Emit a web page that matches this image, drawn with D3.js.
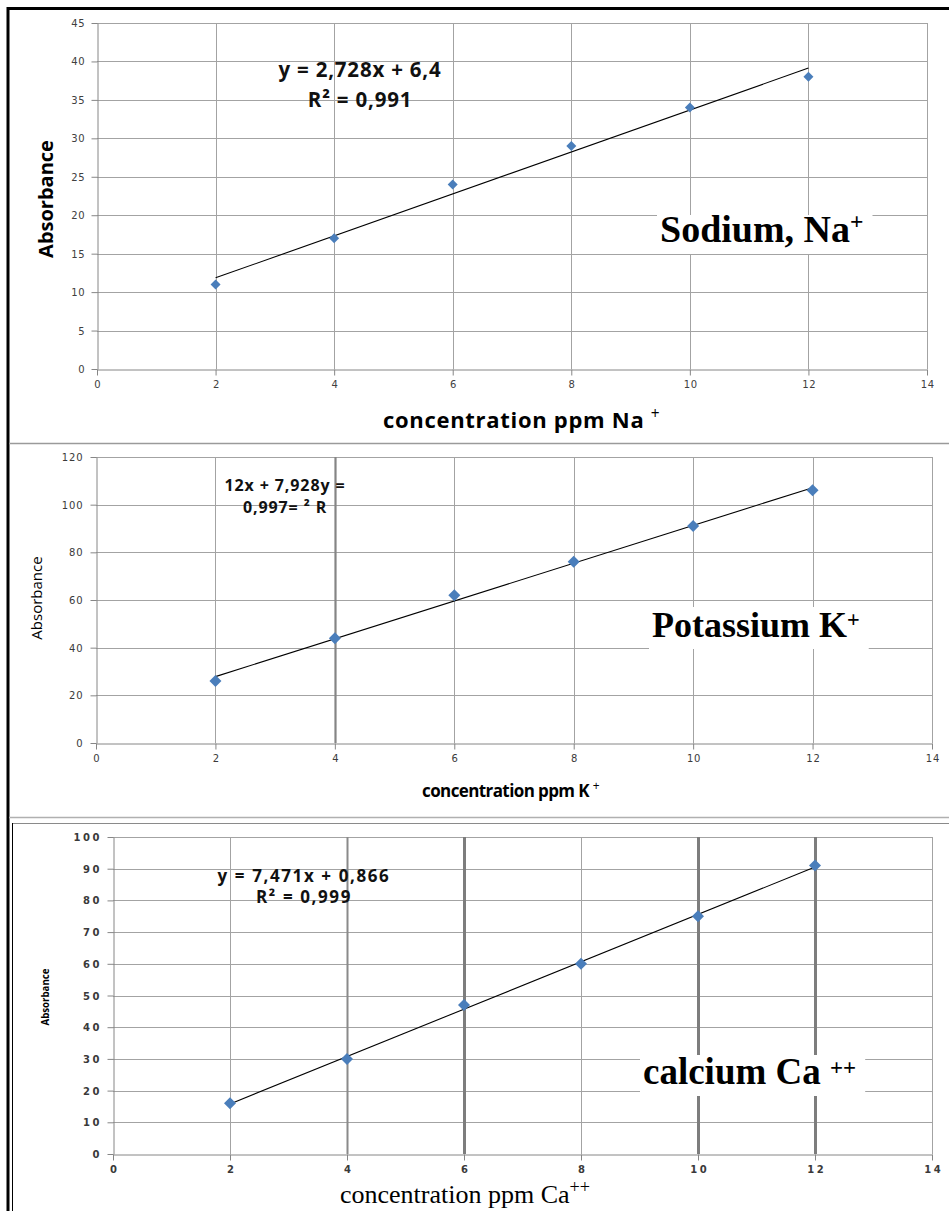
<!DOCTYPE html>
<html>
<head>
<meta charset="utf-8">
<script src="https://cdn.jsdelivr.net/npm/d3@7"></script>
<style>
  body { margin: 0; background: #fff; }
  svg { display: block; }
</style>
</head>
<body>
<svg id="chart" width="949" height="1211"></svg>
<script>
// Calibration data: concentration (ppm) against measured absorbance
const concentration = [2, 4, 6, 8, 10, 12];
const sodiumAbsorbance = [11, 17, 24, 29, 34, 38];
const potassiumAbsorbance = [26, 44, 62, 76, 91, 106];
const calciumAbsorbance = [16, 30, 47, 60, 75, 91];

// Axis ticks
const xTickValues = [0, 2, 4, 6, 8, 10, 12, 14];
const sodiumYTicks = [0, 5, 10, 15, 20, 25, 30, 35, 40, 45];
const potassiumYTicks = [0, 20, 40, 60, 80, 100, 120];
const calciumYTicks = [0, 10, 20, 30, 40, 50, 60, 70, 80, 90, 100];

// Linear trendlines [slope, intercept]
const sodiumFit = [2.728, 6.4];
const potassiumFit = [7.928, 12];
const calciumFit = [7.471, 0.866];

// Text
const sodiumEquation = ["y = 2,728x + 6,4", "R\u00B2 = 0,991"];
const potassiumEquation = ["12x + 7,928y =", "0,997= \u00B2 R"];
const calciumEquation = ["y = 7,471x + 0,866", "R\u00B2 = 0,999"];
const sodiumName = ["Sodium, Na", "+"];
const potassiumName = ["Potassium K", "+"];
const calciumName = ["calcium Ca ", "++"];
const sodiumXTitle = ["concentration ppm Na ", "+"];
const potassiumXTitle = ["concentration ppm K ", "+"];
const calciumXTitle = ["concentration ppm Ca", "++"];
const yTitle = "Absorbance";

const svg = d3.select("#chart");
svg.append("rect").attr("width", 949).attr("height", 1211).attr("fill", "#fff");

const sans = "'Open Sans', 'DejaVu Sans', sans-serif";
const serif = "'Liberation Serif', 'Times New Roman', serif";
const tickFont = "'DejaVu Sans', Verdana, sans-serif";

const panels = [
  {
    xs: concentration, ys: sodiumAbsorbance, yTicks: sodiumYTicks, fit: sodiumFit,
    equation: sodiumEquation, name: sodiumName, xTitle: sodiumXTitle,
    box: { left: 97, right: 927, top: 23, bottom: 369 },
    tick: { size: 10, weight: "normal", spacing: 0.6, fill: "#404040", yGap: 13, xBase: 24 },
    grid: { color: "#a3a3a3", width: 1, strong: {} },
    marker: 5,
    yTitleStyle: { x: 53, y: 199, size: 20, weight: "bold", family: sans },
    xTitleStyle: { x: 383, y: 428, size: 22, weight: "bold", family: sans, spacing: 0.7, anchor: "start" },
    eqStyle: { x: 360, y1: 77, y2: 107, size: 20.5, spacing: 0.8 },
    nameStyle: { x: 660, y: 242, size: 38, pad: [3, 27, 13] }
  },
  {
    xs: concentration, ys: potassiumAbsorbance, yTicks: potassiumYTicks, fit: potassiumFit,
    equation: potassiumEquation, name: potassiumName, xTitle: potassiumXTitle,
    box: { left: 96, right: 932, top: 457, bottom: 743 },
    tick: { size: 10, weight: "normal", spacing: 0.8, fill: "#3a3a3a", yGap: 14, xBase: 24 },
    grid: { color: "#a3a3a3", width: 1, strong: { 4: ["#858585", 2.2] } },
    marker: 6,
    yTitleStyle: { x: 42, y: 598, size: 15, weight: "normal", family: sans },
    xTitleStyle: { x: 422, y: 797, size: 17, weight: "bold", family: sans, spacing: -0.6, anchor: "start" },
    eqStyle: { x: 285, y1: 491, y2: 513, size: 16, spacing: 0.9 },
    nameStyle: { x: 652, y: 637, size: 36, pad: [3, 30, 10] }
  },
  {
    xs: concentration, ys: calciumAbsorbance, yTicks: calciumYTicks, fit: calciumFit,
    equation: calciumEquation, name: calciumName, xTitle: calciumXTitle,
    box: { left: 113, right: 932, top: 837, bottom: 1154 },
    tick: { size: 10, weight: "bold", spacing: 2.6, fill: "#3a3a3a", yGap: 14, xBase: 24 },
    grid: { color: "#a3a3a3", width: 1, strong: { 4: ["#8a8a8a", 2], 6: ["#7d7d7d", 3], 10: ["#7d7d7d", 3], 12: ["#7d7d7d", 3] } },
    marker: 6,
    yTitleStyle: { x: 49, y: 997, size: 11, weight: "bold", family: sans, length: 57 },
    xTitleStyle: { x: 340, y: 1203, size: 26, weight: "normal", family: serif, spacing: 0, anchor: "start" },
    eqStyle: { x: 304, y1: 882, y2: 903, size: 17, spacing: 1.6 },
    nameStyle: { x: 643, y: 1084, size: 37, pad: [3, 29, 9] }
  }
];

// Panel frames
svg.append("line").attr("x1", 8).attr("x2", 949).attr("y1", 8.5).attr("y2", 8.5)
  .attr("stroke", "#000").attr("stroke-width", 3);
svg.append("line").attr("x1", 8).attr("x2", 8).attr("y1", 7).attr("y2", 1211)
  .attr("stroke", "#000").attr("stroke-width", 3);
svg.append("line").attr("x1", 9).attr("x2", 949).attr("y1", 443.5).attr("y2", 443.5)
  .attr("stroke", "#9a9a9a").attr("stroke-width", 1.5);
svg.append("line").attr("x1", 9).attr("x2", 949).attr("y1", 817.5).attr("y2", 817.5)
  .attr("stroke", "#b0b0b0").attr("stroke-width", 1.5);
svg.append("line").attr("x1", 12).attr("x2", 949).attr("y1", 823.5).attr("y2", 823.5)
  .attr("stroke", "#8a8a8a").attr("stroke-width", 1);
svg.append("line").attr("x1", 12.5).attr("x2", 12.5).attr("y1", 823).attr("y2", 1211)
  .attr("stroke", "#000").attr("stroke-width", 1);

function drawPanel(p) {
  const b = p.box;
  const x = d3.scaleLinear().domain([0, 14]).range([b.left, b.right]);
  const yMax = p.yTicks[p.yTicks.length - 1];
  const y = d3.scaleLinear().domain([0, yMax]).range([b.bottom, b.top]);
  const g = svg.append("g");

  // horizontal gridlines
  g.append("g").selectAll("line").data(p.yTicks.filter(d => d > 0)).join("line")
    .attr("x1", b.left).attr("x2", b.right)
    .attr("y1", d => Math.round(y(d)) + 0.5).attr("y2", d => Math.round(y(d)) + 0.5)
    .attr("stroke", p.grid.color).attr("stroke-width", p.grid.width);

  // vertical gridlines
  g.append("g").selectAll("line").data(xTickValues.filter(d => d > 0)).join("line")
    .attr("x1", d => Math.round(x(d)) + 0.5).attr("x2", d => Math.round(x(d)) + 0.5)
    .attr("y1", b.top).attr("y2", b.bottom)
    .attr("stroke", d => p.grid.strong[d] ? p.grid.strong[d][0] : p.grid.color)
    .attr("stroke-width", d => p.grid.strong[d] ? p.grid.strong[d][1] : p.grid.width);

  // axes
  const yAxis = d3.axisLeft(y).tickValues(p.yTicks).tickSize(6).tickSizeOuter(0).tickFormat(d3.format("d"));
  const xAxis = d3.axisBottom(x).tickValues(xTickValues).tickSize(6).tickSizeOuter(0).tickFormat(d3.format("d"));

  const ya = g.append("g").attr("transform", `translate(${Math.round(b.left) + 0.5},0)`).call(yAxis);
  const xa = g.append("g").attr("transform", `translate(0,${Math.round(b.bottom) + 0.5})`).call(xAxis);
  [ya, xa].forEach(a => {
    a.select(".domain").attr("stroke", "#868686");
    a.selectAll(".tick line").attr("stroke", "#868686");
    a.selectAll(".tick text")
      .attr("fill", p.tick.fill)
      .style("font-family", tickFont)
      .style("font-size", p.tick.size + "px")
      .style("font-weight", p.tick.weight)
      .style("letter-spacing", p.tick.spacing + "px");
  });
  ya.selectAll(".tick text").attr("x", -(p.tick.yGap - p.tick.spacing)).attr("dy", "0.35em");
  xa.selectAll(".tick text").attr("y", p.tick.xBase - 6).attr("dy", 0)
    .attr("dx", p.tick.spacing / 2);

  // trendline
  const ends = [d3.min(p.xs), d3.max(p.xs)];
  const line = d3.line().x(d => x(d)).y(d => y(p.fit[0] * d + p.fit[1]));
  g.append("path").datum(ends).attr("d", line)
    .attr("fill", "none").attr("stroke", "#000").attr("stroke-width", 1.1);

  // data markers (diamonds)
  const r = p.marker;
  g.append("g").selectAll("path").data(p.xs.map((d, i) => [d, p.ys[i]])).join("path")
    .attr("d", d => {
      const cx = x(d[0]), cy = y(d[1]);
      return `M${cx},${cy - r}L${cx + r},${cy}L${cx},${cy + r}L${cx - r},${cy}Z`;
    })
    .attr("fill", "#4a7ebb");

  // equation
  const es = p.eqStyle;
  p.equation.forEach((t, i) => {
    g.append("text").attr("x", es.x).attr("y", i ? es.y2 : es.y1)
      .attr("text-anchor", "middle")
      .style("font-family", sans).style("font-weight", "bold")
      .style("font-size", es.size + "px").style("letter-spacing", es.spacing + "px")
      .attr("fill", "#111").text(t);
  });

  // ion name with white backing
  const ns = p.nameStyle;
  const backing = g.append("rect").attr("fill", "#fff");
  const label = g.append("text").attr("x", ns.x).attr("y", ns.y)
    .style("font-family", serif).style("font-weight", "bold")
    .style("font-size", ns.size + "px").attr("fill", "#000");
  label.append("tspan").text(p.name[0]);
  label.append("tspan").attr("dy", -ns.pad[2]).style("font-size", (ns.size * 0.62) + "px").text(p.name[1]);
  const bb = label.node().getBBox();
  backing
    .attr("x", bb.x - ns.pad[0]).attr("y", ns.y - ns.pad[1])
    .attr("width", bb.width + ns.pad[0] * 2 + 6).attr("height", ns.pad[1] + 12);

  // y title
  const ys = p.yTitleStyle;
  const yt = g.append("text").attr("transform", `translate(${ys.x},${ys.y}) rotate(-90)`)
    .attr("text-anchor", "middle")
    .style("font-family", ys.family).style("font-weight", ys.weight)
    .style("font-size", ys.size + "px").attr("fill", "#000").text(yTitle);
  if (ys.length) yt.attr("textLength", ys.length).attr("lengthAdjust", "spacingAndGlyphs");

  // x title
  const xs = p.xTitleStyle;
  const xt = g.append("text").attr("x", xs.x).attr("y", xs.y)
    .attr("text-anchor", xs.anchor)
    .style("font-family", xs.family).style("font-weight", xs.weight)
    .style("font-size", xs.size + "px").style("letter-spacing", xs.spacing + "px")
    .attr("fill", "#000");
  xt.append("tspan").text(p.xTitle[0]);
  xt.append("tspan").attr("dy", -xs.size * 0.4).style("font-size", (xs.size * 0.7) + "px").style("font-weight", "normal").text(p.xTitle[1]);
}

panels.forEach(drawPanel);
</script>
</body>
</html>
